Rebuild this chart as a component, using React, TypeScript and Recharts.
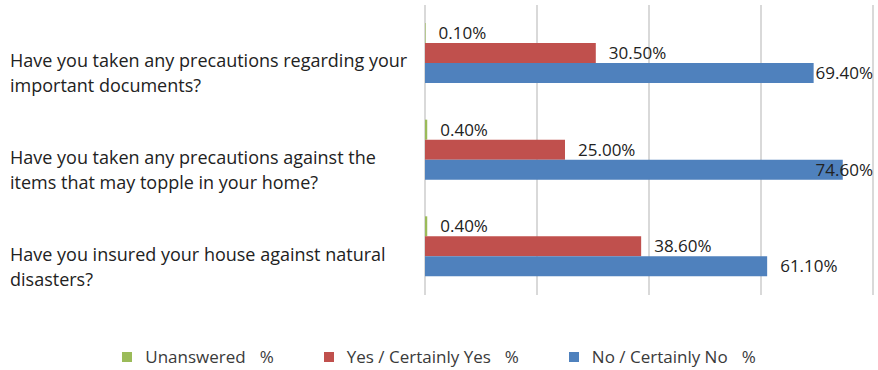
import React from 'react'
import { BarChart, Bar, XAxis, YAxis, CartesianGrid, LabelList, Legend } from 'recharts'

// survey questions (line breaks as in the original)
const questions = [
  'Have you taken any precautions regarding your\nimportant documents?',
  'Have you taken any precautions against the\nitems that may topple in your home?',
  'Have you insured your house against natural\ndisasters?'
]

const unanswered = [0.1, 0.4, 0.4]
const yesCertainlyYes = [30.5, 25.0, 38.6]
const noCertainlyNo = [69.4, 74.6, 61.1]

const xTicks = [0, 20, 40, 60, 80]

const seriesNames = ['Unanswered', 'Yes / Certainly Yes', 'No / Certainly No']
const seriesColors = ['#9BBB59', '#C0504D', '#4F81BD']

const chartData = questions.map((q, i) => ({
  question: q,
  unanswered: unanswered[i],
  yes: yesCertainlyYes[i],
  no: noCertainlyNo[i]
}))

const CHART_W = 878
const CHART_H = 370
const MARGIN = { top: 5, right: 5, bottom: 3, left: 0 }
const PLOT_RIGHT = CHART_W - MARGIN.right
const FONT = '"Open Sans", sans-serif'
const LABEL_FS = 17

// rough width of a value label in Open Sans
function labelWidth(text: string) {
  let w = 0
  for (const ch of text) {
    if (ch === '.') w += 0.267
    else if (ch === '%') w += 0.834
    else w += 0.572
  }
  return w * LABEL_FS
}

function ValueLabel(props: any) {
  const { x, y, width, height, value } = props
  const text = `${Number(value).toFixed(2)}%`
  let tx = Number(x) + Number(width) + 13
  let anchor: 'start' | 'end' = 'start'
  // keep label inside the plot, like Excel does
  if (tx + labelWidth(text) > PLOT_RIGHT) {
    tx = PLOT_RIGHT
    anchor = 'end'
  }
  return (
    <text
      x={tx}
      y={Number(y) + Number(height) / 2}
      dy="0.36em"
      textAnchor={anchor}
      fontFamily={FONT}
      fontSize={LABEL_FS}
      fill="#222"
    >
      {text}
    </text>
  )
}

function QuestionTick(props: any) {
  const { y, payload } = props
  const lines = String(payload.value).split('\n')
  return (
    <text x={10} y={y + 14} fontFamily={FONT} fontSize={18} fill="#222" textAnchor="start">
      {lines.map((line, i) => (
        <tspan key={i} x={10} dy={i === 0 ? 0 : 25}>
          {line}
        </tspan>
      ))}
    </text>
  )
}

function LegendContent() {
  return (
    <div
      style={{
        height: 72,
        boxSizing: 'border-box',
        paddingTop: 52,
        display: 'flex',
        justifyContent: 'center',
        gap: 50,
        fontFamily: FONT,
        fontSize: 17,
        lineHeight: '20px',
        color: '#3a3a3a'
      }}
    >
      {seriesNames.map((name, i) => (
        <div key={name} style={{ display: 'flex', alignItems: 'center' }}>
          <span style={{ width: 10, height: 10, background: seriesColors[i], marginRight: 13 }} />
          <span>{name}</span>
          <span style={{ marginLeft: 14 }}>%</span>
        </div>
      ))}
    </div>
  )
}

export default function App() {
  return (
    <div style={{ position: 'absolute', left: 0, top: 0, width: CHART_W, height: CHART_H, background: '#fff' }}>
      <BarChart
        width={CHART_W}
        height={CHART_H}
        data={chartData}
        layout="vertical"
        margin={MARGIN}
        barSize={20}
        barGap={0}
      >
        <CartesianGrid horizontal={false} stroke="#d9d9d9" strokeWidth={2} />
        <XAxis type="number" domain={[0, 80]} ticks={xTicks} hide />
        <YAxis
          type="category"
          dataKey="question"
          width={425}
          axisLine={false}
          tickLine={false}
          interval={0}
          tick={<QuestionTick />}
        />
        <Legend verticalAlign="bottom" content={<LegendContent />} wrapperStyle={{ left: 0, width: CHART_W }} />
        <Bar dataKey="unanswered" name={seriesNames[0]} fill={seriesColors[0]} isAnimationActive={false}>
          <LabelList dataKey="unanswered" content={<ValueLabel />} />
        </Bar>
        <Bar dataKey="yes" name={seriesNames[1]} fill={seriesColors[1]} isAnimationActive={false}>
          <LabelList dataKey="yes" content={<ValueLabel />} />
        </Bar>
        <Bar dataKey="no" name={seriesNames[2]} fill={seriesColors[2]} isAnimationActive={false}>
          <LabelList dataKey="no" content={<ValueLabel />} />
        </Bar>
      </BarChart>
    </div>
  )
}
